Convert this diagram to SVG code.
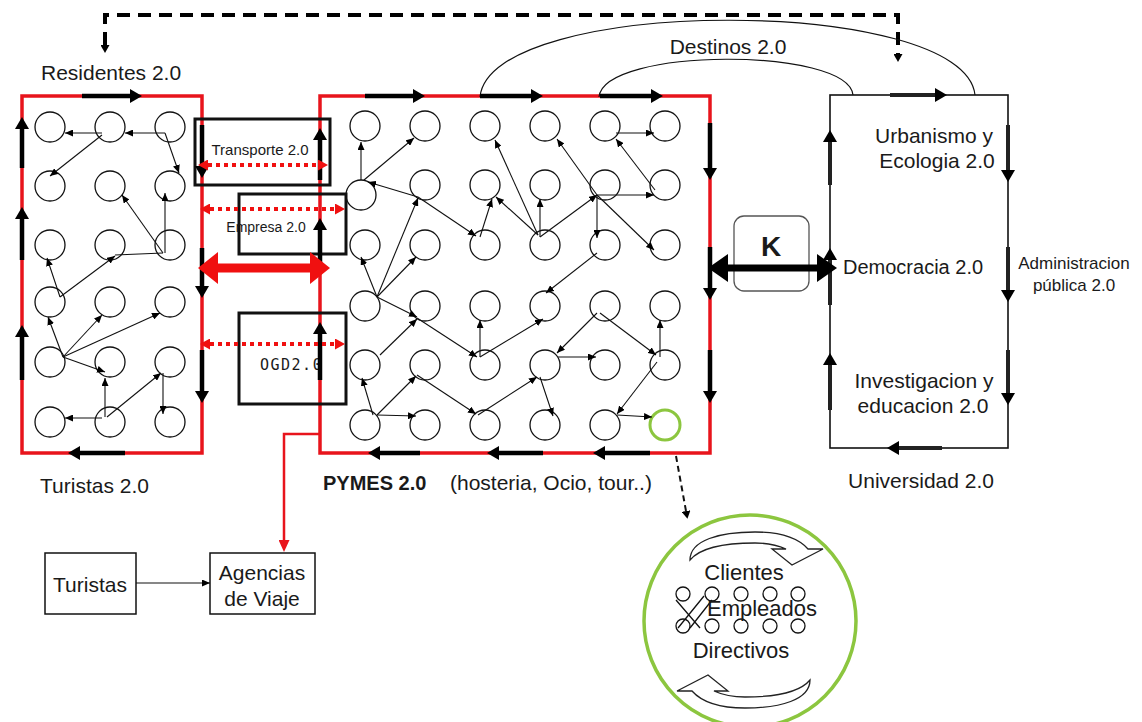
<svg xmlns="http://www.w3.org/2000/svg" width="1142" height="722" viewBox="0 0 1142 722">
<style>
.t{font-family:"Liberation Sans",Arial,sans-serif;fill:#1a1a1a}
.c{fill:none;stroke:#111;stroke-width:1.3}
.sm{fill:none;stroke:#111;stroke-width:1.1;marker-end:url(#sh)}
.rb{fill:none;stroke:#e8141c;stroke-width:3.5}
.ea{fill:none;stroke:#000;stroke-width:4.5;marker-end:url(#eh)}
.eg{fill:none;stroke:#222;stroke-width:4;marker-end:url(#eh)}
.rd{fill:none;stroke:#f01010;stroke-width:4;stroke-dasharray:4 4;marker-start:url(#rh);marker-end:url(#rh)}
.bx{fill:none;stroke:#111;stroke-width:3}
.nb{fill:#fff;stroke:#111;stroke-width:1.5}
</style>
<defs>
<marker id="eh" viewBox="0 0 12 14" refX="0" refY="7" markerWidth="12" markerHeight="14" markerUnits="userSpaceOnUse" orient="auto"><path d="M0,0 L12,7 L0,14 z" fill="#000"/></marker>
<marker id="sh" viewBox="0 0 8 7" refX="8" refY="3.5" markerWidth="8" markerHeight="7" markerUnits="userSpaceOnUse" orient="auto"><path d="M0,0 L8,3.5 L0,7 z" fill="#000"/></marker>
<marker id="rh" viewBox="0 0 10 11" refX="0" refY="5.5" markerWidth="10" markerHeight="11" markerUnits="userSpaceOnUse" orient="auto-start-reverse"><path d="M0,0 L10,5.5 L0,11 z" fill="#f01010"/></marker>
<marker id="rbig" viewBox="0 0 20 32" refX="0" refY="16" markerWidth="20" markerHeight="32" markerUnits="userSpaceOnUse" orient="auto-start-reverse"><path d="M0,0 L20,16 L0,32 z" fill="#f01010"/></marker>
<marker id="kh" viewBox="0 0 20 28" refX="0" refY="14" markerWidth="20" markerHeight="28" markerUnits="userSpaceOnUse" orient="auto-start-reverse"><path d="M0,0 L20,14 L0,28 z" fill="#000"/></marker>
<marker id="dh" viewBox="0 0 8 9" refX="0" refY="4.5" markerWidth="8" markerHeight="9" markerUnits="userSpaceOnUse" orient="auto-start-reverse"><path d="M0,0 L8,4.5 L0,9 z" fill="#000"/></marker>
<marker id="rl" viewBox="0 0 12 11" refX="0" refY="5.5" markerWidth="12" markerHeight="11" markerUnits="userSpaceOnUse" orient="auto"><path d="M0,0 L12,5.5 L0,11 z" fill="#e8141c"/></marker>
</defs>
<rect width="1142" height="722" fill="#fff"/>

<g id="residentes-box">
<rect x="22" y="96" width="180" height="357" class="rb"/>
<g class="c">
<circle cx="50" cy="127" r="15"/><circle cx="110" cy="127" r="15"/><circle cx="170" cy="127" r="15"/>
<circle cx="50" cy="186" r="15"/><circle cx="110" cy="186" r="15"/><circle cx="170" cy="186" r="15"/>
<circle cx="50" cy="245" r="15"/><circle cx="110" cy="245" r="15"/><circle cx="170" cy="245" r="15"/>
<circle cx="50" cy="302" r="15"/><circle cx="110" cy="302" r="15"/><circle cx="170" cy="302" r="15"/>
<circle cx="50" cy="362" r="15"/><circle cx="110" cy="362" r="15"/><circle cx="170" cy="362" r="15"/>
<circle cx="50" cy="422" r="15"/><circle cx="110" cy="422" r="15"/><circle cx="170" cy="422" r="15"/>
</g>
<text class="t" x="41" y="80" font-size="21">Residentes 2.0</text>
<text class="t" x="40" y="493" font-size="21">Turistas 2.0</text>
</g>

<g id="pymes-box">
<rect x="320" y="96" width="390" height="357" class="rb"/>
<g class="c">
<circle cx="365" cy="126" r="15"/><circle cx="425" cy="126" r="15"/><circle cx="485" cy="126" r="15"/><circle cx="545" cy="126" r="15"/><circle cx="605" cy="126" r="15"/><circle cx="665" cy="126" r="15"/>
<circle cx="361" cy="195" r="15"/><circle cx="425" cy="185" r="15"/><circle cx="485" cy="185" r="15"/><circle cx="545" cy="185" r="15"/><circle cx="605" cy="185" r="15"/><circle cx="665" cy="185" r="15"/>
<circle cx="365" cy="245" r="15"/><circle cx="425" cy="245" r="15"/><circle cx="485" cy="245" r="15"/><circle cx="545" cy="245" r="15"/><circle cx="605" cy="245" r="15"/><circle cx="665" cy="245" r="15"/>
<circle cx="365" cy="306" r="15"/><circle cx="425" cy="306" r="15"/><circle cx="485" cy="306" r="15"/><circle cx="545" cy="306" r="15"/><circle cx="605" cy="306" r="15"/><circle cx="665" cy="306" r="15"/>
<circle cx="365" cy="365" r="15"/><circle cx="425" cy="365" r="15"/><circle cx="485" cy="365" r="15"/><circle cx="545" cy="365" r="15"/><circle cx="605" cy="365" r="15"/><circle cx="665" cy="365" r="15"/>
<circle cx="365" cy="425" r="15"/><circle cx="425" cy="425" r="15"/><circle cx="485" cy="425" r="15"/><circle cx="545" cy="425" r="15"/><circle cx="605" cy="425" r="15"/>
</g>
<circle cx="665" cy="425" r="15" fill="none" stroke="#8cc63f" stroke-width="3"/>
<text class="t" x="323" y="490" font-size="20" font-weight="bold">PYMES 2.0</text>
<text class="t" x="450" y="490" font-size="21">(hosteria, Ocio, tour..)</text>
</g>

<g id="universidad-box">
<rect x="830" y="95" width="178" height="353" fill="none" stroke="#111" stroke-width="1.6"/>
<text class="t" x="934" y="143" font-size="21" text-anchor="middle">Urbanismo y</text>
<text class="t" x="937" y="168" font-size="21" text-anchor="middle">Ecologia 2.0</text>
<text class="t" x="843" y="274" font-size="20">Democracia 2.0</text>
<text class="t" x="924" y="388" font-size="21" text-anchor="middle">Investigacion y</text>
<text class="t" x="923" y="413" font-size="21" text-anchor="middle">educacion 2.0</text>
<text class="t" x="1074" y="269" font-size="17" text-anchor="middle">Administracion</text>
<text class="t" x="1074" y="291" font-size="17" text-anchor="middle">pública 2.0</text>
<text class="t" x="921" y="488" font-size="21" text-anchor="middle">Universidad 2.0</text>
</g>

<g id="transporte">
<rect x="195" y="119" width="135" height="66" class="bx"/>
<text class="t" x="260" y="155" font-size="15" text-anchor="middle">Transporte 2.0</text>
</g>
<g id="empresa">
<rect x="239" y="194" width="107" height="60" class="bx"/>
<text class="t" x="266" y="232" font-size="14" text-anchor="middle">Empresa 2.0</text>
</g>
<g id="ogd">
<rect x="239" y="313" width="107" height="91" class="bx"/>
<text x="260" y="370" font-size="15" font-family="DejaVu Sans Mono, monospace" letter-spacing="1.5" fill="#1a1a1a">OGD2.0</text>
</g>

<g id="k-box">
<rect x="734" y="216" width="75" height="75" rx="10" fill="#fff" stroke="#555" stroke-width="1.3"/>
<text class="t" x="771" y="256" font-size="28" font-weight="bold" text-anchor="middle">K</text>
</g>

<g id="destinos">
<text class="t" x="728" y="54" font-size="21" text-anchor="middle">Destinos 2.0</text>
</g>

<g id="turistas">
<rect x="45" y="553" width="91" height="61" class="nb"/>
<text class="t" x="90" y="592" font-size="21" text-anchor="middle">Turistas</text>
</g>
<g id="agencias">
<rect x="210" y="553" width="105" height="61" class="nb"/>
<text class="t" x="262" y="580" font-size="21" text-anchor="middle">Agencias</text>
<text class="t" x="262" y="606" font-size="21" text-anchor="middle">de Viaje</text>
</g>

<g id="empresa-detail">
<circle cx="750" cy="621" r="106" fill="none" stroke="#8cc63f" stroke-width="3.5"/>
<path id="curl" d="M690,560 C690,540 720,532 755,532 C785,532 800,540 808,549 L823,549 L792,565 L772,549 L786,549 C775,544 765,543 755,543 C725,543 700,548 690,560 Z" fill="#fff" stroke="#222" stroke-width="1.3"/>
<use href="#curl" transform="rotate(180 750 620)"/>
<g class="c" stroke-width="1.2">
<circle cx="683" cy="594" r="7"/><circle cx="712" cy="594" r="7"/><circle cx="741" cy="594" r="7"/><circle cx="770" cy="594" r="7"/><circle cx="798" cy="594" r="7"/>
<circle cx="683" cy="626" r="7"/><circle cx="712" cy="626" r="7"/><circle cx="741" cy="626" r="7"/><circle cx="770" cy="626" r="7"/><circle cx="798" cy="626" r="7"/>
<path d="M676,600 L700,628 M678,628 L704,596 M690,628 L712,600"/>
</g>
<text class="t" x="744" y="580" font-size="22" text-anchor="middle">Clientes</text>
<text class="t" x="762" y="616" font-size="22" text-anchor="middle">Empleados</text>
<text class="t" x="741" y="658" font-size="22" text-anchor="middle">Directivos</text>
</g>

<g id="connectors">
<!-- top dashed link -->
<path d="M105,45 V15 H898 V54" fill="none" stroke="#000" stroke-width="4" stroke-dasharray="13 8" marker-start="url(#dh)" marker-end="url(#dh)"/>
<!-- Destinos arcs -->
<path d="M480,97 C490,-5 965,-5 975,95" fill="none" stroke="#111" stroke-width="1.2"/>
<path d="M599,97 C604,47 848,47 853,95" fill="none" stroke="#111" stroke-width="1.2"/>
<!-- box edge arrows: residentes -->
<path class="ea" d="M82,96 H130"/>
<path class="ea" d="M202,125 V166"/><path class="ea" d="M202,248 V286"/><path class="ea" d="M202,350 V391"/>
<path class="ea" d="M125,453 H80"/>
<path class="ea" d="M22,168 V129"/><path class="ea" d="M22,260 V219"/><path class="ea" d="M22,380 V337"/>
<!-- pymes -->
<path class="ea" d="M365,96 H413"/><path class="ea" d="M480,96 H531"/><path class="ea" d="M600,96 H651"/>
<path class="ea" d="M710,123 V168"/><path class="ea" d="M710,247 V288"/><path class="ea" d="M710,350 V391"/>
<path class="ea" d="M420,453 H380"/><path class="ea" d="M543,453 H499"/><path class="ea" d="M650,453 H605"/>
<path class="ea" d="M320,180 V140"/><path class="ea" d="M320,265 V230"/><path class="ea" d="M320,380 V334"/>
<!-- universidad -->
<path class="eg" d="M890,95 H935"/>
<path class="eg" d="M1008,125 V170"/><path class="eg" d="M1008,247 V290"/><path class="eg" d="M1008,350 V393"/>
<path class="eg" d="M830,185 V142"/><path class="eg" d="M830,305 V260"/><path class="eg" d="M830,410 V365"/>
<path class="eg" d="M942,448 H899"/>
<!-- red links between residentes and pymes -->
<path class="rd" d="M208,165 H318"/>
<path class="rd" d="M210,209 H335"/>
<path class="rd" d="M210,344 H335"/>
<path d="M218,268 H310" fill="none" stroke="#f01010" stroke-width="9" marker-start="url(#rbig)" marker-end="url(#rbig)"/>
<!-- K link -->
<path d="M728,268 H817" fill="none" stroke="#000" stroke-width="7" marker-start="url(#kh)" marker-end="url(#kh)"/>
<!-- pymes to agencias -->
<path d="M320,434 H284 V540" fill="none" stroke="#e8141c" stroke-width="2.5" marker-end="url(#rl)"/>
<path class="sm" d="M136,583 H210"/>
<!-- green detail link -->
<path d="M676,456 L686,511" fill="none" stroke="#111" stroke-width="2" stroke-dasharray="6 4" marker-end="url(#dh)"/>
<!-- residentes inner arrows -->
<path class="sm" d="M165,133 L125,133"/>
<path class="sm" d="M102,133 L65,133"/>
<path class="sm" d="M102,135 L50,176"/>
<path class="sm" d="M165,133 L179,173"/>
<path class="sm" d="M163,253 L122,195"/>
<path class="sm" d="M165,253 L165,193"/>
<path d="M115,255 L163,253" fill="none" stroke="#111" stroke-width="1.1"/>
<path class="sm" d="M60,297 L115,256"/>
<path class="sm" d="M60,297 L47,258"/>
<path class="sm" d="M63,357 L48,317"/>
<path class="sm" d="M63,357 L102,315"/>
<path class="sm" d="M63,357 L160,313"/>
<path class="sm" d="M63,357 L105,372"/>
<path class="sm" d="M105,417 L105,378"/>
<path class="sm" d="M102,418 L65,418"/>
<path class="sm" d="M107,417 L161,373"/>
<path class="sm" d="M163,373 L163,414"/>
<!-- pymes inner arrows -->
<path class="sm" d="M361,180 L361,142"/>
<path class="sm" d="M364,180 L414,138"/>
<path class="sm" d="M418,197 L368,182"/>
<path class="sm" d="M418,197 L476,236"/>
<path class="sm" d="M377,297 L418,198"/>
<path class="sm" d="M480,237 L492,199"/>
<path class="sm" d="M538,235 L496,197"/>
<path class="sm" d="M538,235 L495,140"/>
<path class="sm" d="M540,237 L540,199"/>
<path class="sm" d="M540,237 L597,195"/>
<path class="sm" d="M597,195 L654,195"/>
<path class="sm" d="M597,195 L597,238"/>
<path class="sm" d="M597,195 L557,139"/>
<path class="sm" d="M597,195 L654,250"/>
<path class="sm" d="M655,190 L616,139"/>
<path class="sm" d="M616,133 L654,133"/>
<path class="sm" d="M377,297 L361,257"/>
<path class="sm" d="M377,297 L416,257"/>
<path class="sm" d="M377,297 L417,317"/>
<path class="sm" d="M380,355 L417,319"/>
<path class="sm" d="M417,318 L477,357"/>
<path class="sm" d="M480,357 L480,320"/>
<path class="sm" d="M480,357 L543,319"/>
<path class="sm" d="M597,253 L546,293"/>
<path class="sm" d="M373,415 L362,378"/>
<path class="sm" d="M377,415 L416,376"/>
<path class="sm" d="M377,415 L416,416"/>
<path class="sm" d="M417,375 L476,414"/>
<path class="sm" d="M478,415 L537,377"/>
<path class="sm" d="M540,377 L553,416"/>
<path class="sm" d="M597,313 L557,353"/>
<path class="sm" d="M558,357 L596,357"/>
<path class="sm" d="M600,313 L656,355"/>
<path class="sm" d="M660,357 L660,320"/>
<path class="sm" d="M657,362 L617,414"/>
<path class="sm" d="M617,415 L652,417"/>
</g>
</svg>
